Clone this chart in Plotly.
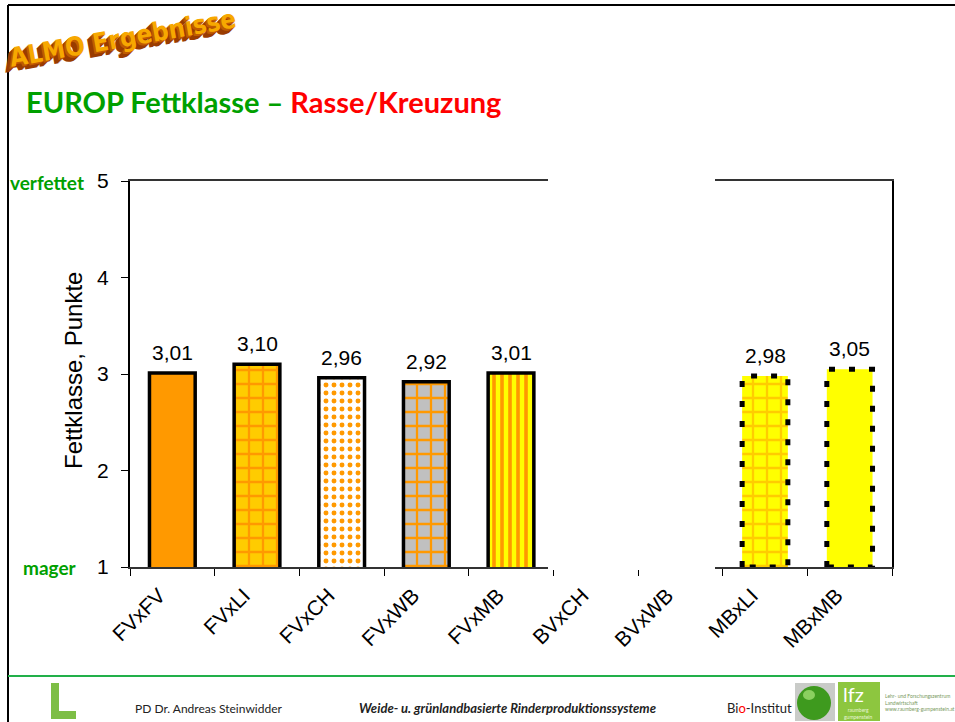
import plotly.graph_objects as go

# ---- data ----
categories = ["FVxFV", "FVxLI", "FVxCH", "FVxWB", "FVxMB", "BVxCH", "BVxWB", "MBxLI", "MBxMB"]
fat_score = [3.01, 3.10, 2.96, 2.92, 3.01, None, None, 2.98, 3.05]
y_ticks = [1, 2, 3, 4, 5]

# ---- page geometry (pixels) ----
W, H = 955, 722
L, R, T, B = 130, 63, 181, 155
PW, PH = W - L - R, H - T - B


def fx(px):
    return (px - L) / PW


def fy(py):
    return (H - B - py) / PH


ORANGE, GOLD, YELLOW, GREY = "#FF9900", "#FFCC00", "#FFFF00", "#C0C0C0"

# fill style per bar (pattern shape, fg, bg, size, solidity, dashed outline)
styles = {
    "FVxFV": dict(shape="", fg=ORANGE, bg=ORANGE, size=8, sol=0.5, dashed=False),
    "FVxLI": dict(shape="+", fg=ORANGE, bg=GOLD, size=14, sol=0.3, dashed=False),
    "FVxCH": dict(shape=".", fg=ORANGE, bg="#FFFFFF", size=8, sol=0.3, dashed=False),
    "FVxWB": dict(shape="+", fg=ORANGE, bg=GREY, size=14, sol=0.3, dashed=False),
    "FVxMB": dict(shape="|", fg=ORANGE, bg=YELLOW, size=8, sol=0.45, dashed=False),
    "MBxLI": dict(shape="+", fg=GOLD, bg=YELLOW, size=14, sol=0.3, dashed=True),
    "MBxMB": dict(shape="", fg=YELLOW, bg=YELLOW, size=8, sol=0.5, dashed=True),
}
BAR_W = 0.54

fig = go.Figure()

for i, (cat, val) in enumerate(zip(categories, fat_score)):
    if val is None:
        continue
    st = styles[cat]
    fig.add_trace(go.Bar(
        x=[cat], y=[val], width=BAR_W,
        marker=dict(
            color=st["bg"],
            line=dict(color="black", width=0 if st["dashed"] else 3.5),
            pattern=dict(shape=st["shape"], fgcolor=st["fg"], bgcolor=st["bg"],
                         fgopacity=1, size=st["size"], solidity=st["sol"],
                         fillmode="overlay"),
        ),
        showlegend=False, hoverinfo="skip",
    ))
    if st["dashed"]:
        x0, x1 = i - BAR_W / 2, i + BAR_W / 2
        fig.add_trace(go.Scatter(
            x=[x0, x0, x1, x1, x0], y=[1, val, val, 1, 1],
            xaxis="x2", mode="lines",
            line=dict(color="black", width=5, dash="6px,14px"),
            showlegend=False, hoverinfo="skip",
        ))
    fig.add_annotation(
        x=cat, y=val, text=f"{val:.2f}".replace(".", ","),
        showarrow=False, xanchor="center", yanchor="bottom", yshift=7,
        font=dict(family="Liberation Sans, Arial", size=21, color="black"),
    )

axis_font = dict(family="Liberation Sans, Arial", size=21, color="black")

fig.update_layout(
    width=W, height=H, autosize=False,
    margin=dict(l=L, r=R, t=T, b=B, pad=0),
    paper_bgcolor="white", plot_bgcolor="white",
    barmode="overlay",
    separators=", ",
    xaxis=dict(
        type="category", categoryorder="array", categoryarray=categories,
        range=[-0.5, len(categories) - 0.5],
        tickson="boundaries", ticks="outside", ticklen=7, tickcolor="black",
        showline=True, linecolor="#333333", linewidth=2, mirror=True,
        showgrid=False, tickangle=-45, tickfont=axis_font, fixedrange=True,
        ticklabelshift=-13, ticklabelstandoff=6,
    ),
    xaxis2=dict(
        overlaying="x", range=[-0.5, len(categories) - 0.5],
        visible=False, fixedrange=True,
    ),
    yaxis=dict(
        range=[1, 5], tickvals=y_ticks, ticktext=[str(v) for v in y_ticks],
        ticks="outside", ticklen=7, tickcolor="black",
        showline=True, linecolor="black", linewidth=2, mirror=True,
        showgrid=False, zeroline=False, tickfont=axis_font, fixedrange=True,
        ticklabelstandoff=8,
    ),
)


def note(px, py, text, font, xanchor="center", yanchor="middle", **kw):
    fig.add_annotation(xref="paper", yref="paper", x=fx(px), y=fy(py), text=text,
                       showarrow=False, xanchor=xanchor, yanchor=yanchor, font=font, **kw)


# axis title
note(73, 371, "Fettklasse, Punkte",
     dict(family="Liberation Sans, Arial", size=24, color="black"), textangle=-90)

GREEN = "#00A000"
label_font = dict(family="Lato, Open Sans", size=19, color=GREEN)
note(47, 182, "<b>verfettet</b>", label_font)
note(50, 567, "<b>mager</b>", label_font)

# slide title
note(24, 102,
     (f"<b><span style='color:{GREEN}'>EUROP Fettklasse – </span>"
      "<span style='color:#FF0000'>Rasse/Kreuzung</span></b>"),
     dict(family="Lato, Open Sans", size=29), xanchor="left")

# word-art heading with extruded shadow
logo_font = "DejaVu Sans Condensed, Liberation Sans Narrow, Arial"
for k in range(6, 0, -1):
    note(123 - k, 38 + k, "<b>ALMO Ergebnisse</b>",
         dict(family=logo_font, size=26, color="#9A3C00" if k > 2 else "#C05A00"),
         textangle=-10)
note(123, 38, "<b>ALMO Ergebnisse</b>",
     dict(family=logo_font, size=26, color="#F7A800"), textangle=-10)

shapes = []
# white cover over the BV section of the plot
shapes.append(dict(type="rect", xref="paper", yref="paper",
                   x0=fx(548), x1=fx(715), y0=fy(570), y1=fy(172),
                   fillcolor="white", line=dict(width=0), layer="above"))
# slide frame
shapes.append(dict(type="line", xref="paper", yref="paper",
                   x0=fx(8), x1=fx(8), y0=fy(5), y1=fy(722),
                   line=dict(color="black", width=2)))
shapes.append(dict(type="line", xref="paper", yref="paper",
                   x0=fx(8), x1=fx(955), y0=fy(5), y1=fy(5),
                   line=dict(color="black", width=2)))
# footer rule
shapes.append(dict(type="line", xref="paper", yref="paper",
                   x0=fx(8), x1=fx(955), y0=fy(676), y1=fy(676),
                   line=dict(color="#22B04A", width=2)))
# "L" logo
shapes.append(dict(type="rect", xref="paper", yref="paper",
                   x0=fx(51), x1=fx(59), y0=fy(683), y1=fy(719),
                   fillcolor="#7DBE45", line=dict(width=0)))
shapes.append(dict(type="rect", xref="paper", yref="paper",
                   x0=fx(51), x1=fx(76), y0=fy(711), y1=fy(719),
                   fillcolor="#7DBE45", line=dict(width=0)))
# sphere logo
shapes.append(dict(type="rect", xref="paper", yref="paper",
                   x0=fx(795), x1=fx(835), y0=fy(683), y1=fy(721),
                   fillcolor="#C9CBC8", line=dict(width=0)))
shapes.append(dict(type="circle", xref="paper", yref="paper",
                   x0=fx(797), x1=fx(831), y0=fy(686), y1=fy(720),
                   fillcolor="#3E9A1E", line=dict(width=0)))
shapes.append(dict(type="circle", xref="paper", yref="paper",
                   x0=fx(803), x1=fx(815), y0=fy(690), y1=fy(700),
                   fillcolor="#8BD060", line=dict(width=0)))
# lfz logo
shapes.append(dict(type="rect", xref="paper", yref="paper",
                   x0=fx(838), x1=fx(880), y0=fy(682), y1=fy(721),
                   fillcolor="#8DC63F", line=dict(width=0)))
fig.update_layout(shapes=shapes)

note(133, 708, "PD Dr. Andreas Steinwidder",
     dict(family="Lato, Open Sans", size=12, color="#222222"), xanchor="left")
note(357, 708, "<b><i>Weide- u. grünlandbasierte Rinderproduktionssysteme</i></b>",
     dict(family="Lato, Open Sans", size=13, color="#222222"), xanchor="left")
note(725, 708, "Bi<span style='color:#FF0000'>o</span>-Institut",
     dict(family="Lato, Open Sans", size=13, color="#222222"), xanchor="left")
note(841, 694, "lfz", dict(family="Lato, Open Sans", size=20, color="white"), xanchor="left")
note(842, 713, "raumberg<br>gumpenstein",
     dict(family="Lato, Open Sans", size=5, color="#E8F5D8"), xanchor="left")
note(883, 702, "Lehr- und Forschungszentrum<br>Landwirtschaft<br>www.raumberg-gumpenstein.at",
     dict(family="Lato, Open Sans", size=5, color="#7A9A60"), xanchor="left", align="left")

fig.write_html("out.html")
